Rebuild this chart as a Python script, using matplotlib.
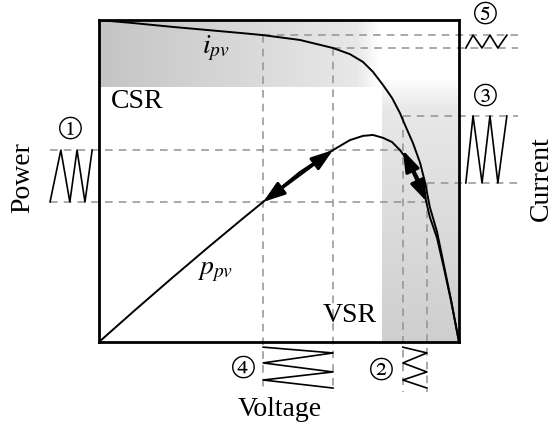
import numpy as np
import matplotlib
matplotlib.use("Agg")
import matplotlib.pyplot as plt

plt.rcParams['font.family'] = ['Liberation Serif', 'STIXGeneral', 'DejaVu Serif', 'DejaVu Sans']
plt.rcParams['mathtext.fontset'] = 'stix'

# normalised PV curves (voltage, current, power in 0..1)
voltage = [0, 0.1, 0.2, 0.3, 0.4, 0.456, 0.558, 0.650, 0.697, 0.733, 0.761, 0.789, 0.814,
           0.836, 0.850, 0.872, 0.892, 0.906, 0.919, 0.939, 0.958, 0.978, 1.0]
current = [1.0, 0.990, 0.979, 0.969, 0.959, 0.953, 0.938, 0.913, 0.894, 0.870, 0.839, 0.798, 0.758,
           0.711, 0.674, 0.618, 0.556, 0.494, 0.419, 0.342, 0.239, 0.130, 0]
power = [0, 0.099, 0.196, 0.291, 0.384, 0.435, 0.528, 0.596, 0.627, 0.640, 0.643, 0.634, 0.621,
         0.596, 0.575, 0.540, 0.497, 0.450, 0.388, 0.323, 0.230, 0.127, 0]

# operating points: CSR pair (left of MPP) and VSR pair (right of MPP)
v_csr = [0.456, 0.650]
i_csr = [0.953, 0.913]
v_vsr = [0.844, 0.911]
i_vsr = [0.702, 0.494]
p_levels = [0.435, 0.596]

# oscillation sketches (time axis positions outside the box)
zig_left = [-0.136, -0.106, -0.081, -0.061, -0.039, -0.019]
zig_right = [1.019, 1.039, 1.064, 1.086, 1.108, 1.133]
zig_below = [-0.016, -0.034, -0.065, -0.093, -0.118, -0.143]

fig = plt.figure(figsize=(5.54, 4.30), dpi=100)
ax = fig.add_axes([99 / 554, 88 / 430, 360 / 554, 322 / 430])
ax.set_xticks([])
ax.set_yticks([])
for s in ax.spines.values():
    s.set_linewidth(2)
    s.set_zorder(5)

# shaded regions
xs = np.linspace(0, 1, 200)
g_top = np.interp(xs, [0, 0.92, 1.0], [0.77, 0.91, 1.0])
ax.imshow(np.dstack([g_top] * 3), extent=(0, 0.78, 0.792, 1.0),
          aspect='auto', zorder=0, interpolation='bilinear')
g_right = np.interp(xs, [0, 0.88, 1.0], [0.81, 0.91, 1.0])[::-1]
ax.imshow(np.dstack([g_right] * 3).reshape(200, 1, 3), extent=(0.786, 1.0, 0, 0.82),
          aspect='auto', zorder=0, interpolation='bilinear')
ax.set_xlim(0, 1)
ax.set_ylim(0, 1)

dash = dict(color='#929292', lw=1.1, ls=(0, (5, 4)), clip_on=False, zorder=1)
x_out = 1.164
y_out = -0.155
# power levels to the left
ax.plot([-0.136, v_vsr[0]], [p_levels[1]] * 2, **dash)
ax.plot([-0.136, v_vsr[1]], [p_levels[0]] * 2, **dash)
# current levels to the right, voltage levels below
for v, i in zip(v_csr + v_vsr, i_csr + i_vsr):
    ax.plot([v, x_out], [i, i], **dash)
    ax.plot([v, v], [i, y_out], **dash)

# curves
ax.plot(voltage, current, color='k', lw=1.4, zorder=3)
ax.plot(voltage, power, color='k', lw=1.4, zorder=3)

# perturbation arrows
arr = dict(arrowstyle='<|-|>,head_length=0.65,head_width=0.22', color='k', lw=2.2,
           mutation_scale=20, shrinkA=0, shrinkB=0)
ax.annotate('', xy=(v_csr[1], p_levels[1]), xytext=(v_csr[0], p_levels[0]), arrowprops=arr, zorder=4)
ax.annotate('', xy=(v_vsr[1], p_levels[0]), xytext=(v_vsr[0], p_levels[1]), arrowprops=arr, zorder=4)

# zigzags
zz = dict(color='k', lw=1.2, clip_on=False, zorder=3)
ax.plot(zig_left, [p_levels[k % 2] for k in range(6)], **zz)
ax.plot(zig_right, [i_vsr[1 - k % 2] for k in range(6)], **zz)
ax.plot(zig_right, [i_csr[1 - k % 2] for k in range(6)], **zz)
ax.plot([v_csr[k % 2] for k in range(6)], zig_below, **zz)
ax.plot([v_vsr[k % 2] for k in range(6)], zig_below, **zz)

# labels
fs = 20
fig.text(23 / 554, 1 - 178 / 430, 'Power', rotation=90, ha='center', va='center', fontsize=fs)
fig.text(541 / 554, 1 - 179 / 430, 'Current', rotation=90, ha='center', va='center', fontsize=fs)
fig.text(280 / 554, 1 - 410 / 430, 'Voltage', ha='center', va='center', fontsize=fs)
fig.text(137 / 554, 1 - 101 / 430, 'CSR', ha='center', va='center', fontsize=fs)
fig.text(350 / 554, 1 - 315 / 430, 'VSR', ha='center', va='center', fontsize=fs)
fig.text(216 / 554, 1 - 48 / 430, r'$i_{pv}$', ha='center', va='center', fontsize=fs)
fig.text(215 / 554, 1 - 272 / 430, r'$p_{pv}$', ha='center', va='center', fontsize=fs)

circ = [('\u2460', 70, 130), ('\u2461', 381, 371), ('\u2462', 485, 97),
        ('\u2463', 243, 369), ('\u2464', 485, 15)]
for t, px, py in circ:
    fig.text(px / 554, 1 - py / 430, t, ha='center', va='center', fontsize=24)

fig.savefig('out.png', dpi=100)
